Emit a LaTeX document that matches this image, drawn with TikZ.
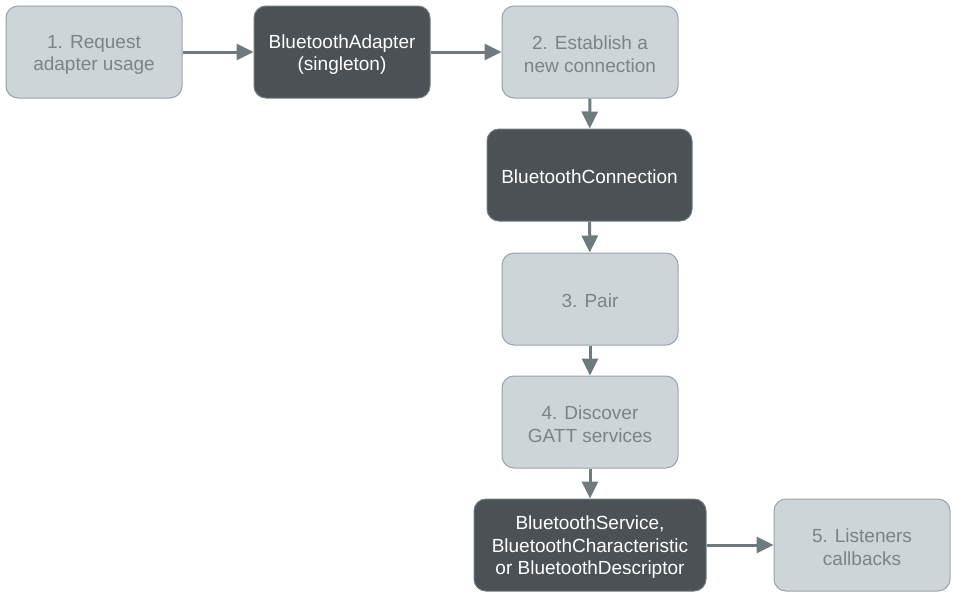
\documentclass[tikz,border=0pt]{standalone}
\usepackage{fontspec}
\setmainfont{Liberation Sans}
\usetikzlibrary{arrows.meta}
\definecolor{lightfill}{HTML}{CED5D8}
\definecolor{lightborder}{HTML}{9AA3A7}
\definecolor{lighttext}{HTML}{7E8284}
\definecolor{darkfill}{HTML}{4B5154}
\definecolor{darkborder}{HTML}{727A7E}
\definecolor{arrowcol}{HTML}{6F7A7F}
\begin{document}
\begin{tikzpicture}[x=1pt,y=-1pt,
  boxbase/.style={line width=1pt,rounded corners=12pt,minimum height=92pt,align=center,
    font=\fontsize{19}{22.5}\selectfont,inner sep=0pt},
  topstrut/.style={execute at begin node={\rule{0pt}{#1}}},
  one/.style={topstrut=16.5pt},
  two/.style={topstrut=41pt},
  three/.style={topstrut=63.5pt},
  lightbox/.style={boxbase,draw=lightborder,fill=lightfill,minimum width=176pt,text=lighttext},
  darkbox/.style={boxbase,draw=darkborder,fill=darkfill,text=white},
  flow/.style={draw=arrowcol,line width=3pt,-{Triangle[length=17pt,width=16pt]}}]
\useasboundingbox (0,0) rectangle (957,598);
\node[lightbox,two] (req) at (94,52) {1. Request\\adapter usage};
\node[darkbox,two,minimum width=176pt] (adp) at (342,52) {BluetoothAdapter\\(singleton)};
\node[lightbox,two] (est) at (590,52) {2. Establish a\\new connection};
\node[darkbox,one,minimum width=205pt] (con) at (589.5,175) {BluetoothConnection};
\node[lightbox,one] (pair) at (590,299) {3. Pair};
\node[lightbox,two] (disc) at (590,422) {4. Discover\\GATT services};
\node[darkbox,three,minimum width=232pt] (svc) at (590,545) {BluetoothService,\\BluetoothCharacteristic\\or BluetoothDescriptor};
\node[lightbox,two] (lis) at (862,545) {5. Listeners\\callbacks};
\draw[flow] (req) -- (adp);
\draw[flow] (adp) -- (est);
\draw[flow] (est) -- (con);
\draw[flow] (con) -- (pair);
\draw[flow] (pair) -- (disc);
\draw[flow] (disc) -- (svc);
\draw[flow] (svc) -- (lis);
\end{tikzpicture}
\end{document}
